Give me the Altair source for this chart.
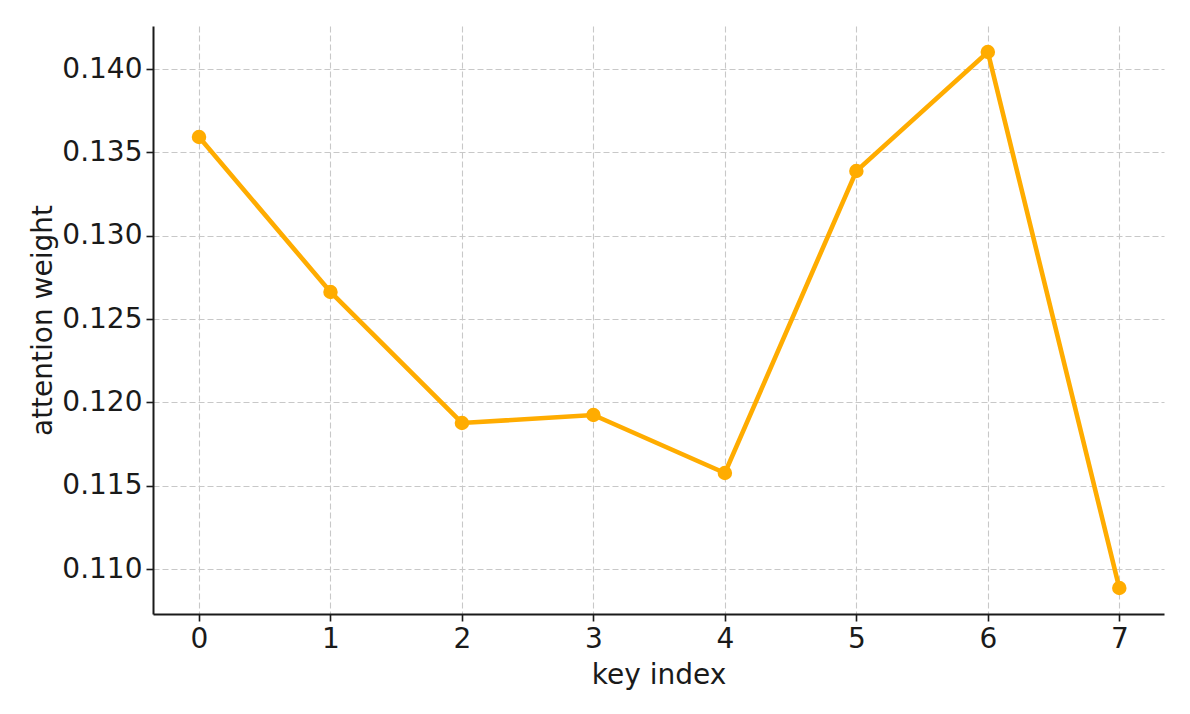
import altair as alt
import pandas as pd

keys = [0, 1, 2, 3, 4, 5, 6, 7]
weights = [0.13592, 0.12662, 0.11876, 0.11924, 0.11576, 0.13388, 0.14102, 0.10886]

df = pd.DataFrame({"key": keys, "weight": weights})

FONT = "DejaVu Sans"
COLOR = "#FFAC00"
INK = "#1a1a1a"

common = dict(labelFontSize=28, titleFontSize=28, labelFont=FONT, titleFont=FONT,
              labelColor=INK, titleColor=INK, titleFontWeight="normal",
              tickSize=7, tickWidth=1.6, tickColor=INK, labelPadding=4,
              domainColor=INK, domainWidth=2,
              gridColor="#c8c8c8", gridDash=[6, 3], gridWidth=1.1)

x = alt.X("key:Q", title="key index",
          scale=alt.Scale(domain=[-0.35, 7.34], nice=False, zero=False),
          axis=alt.Axis(values=keys, format="d", titlePadding=8, **common))
y = alt.Y("weight:Q", title="attention weight",
          scale=alt.Scale(domain=[0.10730, 0.14258], nice=False, zero=False),
          axis=alt.Axis(values=[0.110, 0.115, 0.120, 0.125, 0.130, 0.135, 0.140], format=".3f",
                        titlePadding=4, **common))

line = alt.Chart(df).mark_line(color=COLOR, strokeWidth=4.6).encode(x=x, y=y)
pts = alt.Chart(df).mark_point(color=COLOR, filled=True, size=210, opacity=1).encode(x="key:Q", y="weight:Q")

chart = (line + pts).properties(
    width=1011, height=588,
    background="white",
    autosize=alt.AutoSizeParams(type="none"),
    padding={"left": 145, "top": 18, "right": 18, "bottom": 92},
).configure_view(strokeWidth=0, stroke="transparent")

chart.save("out.html", embed_options={"renderer": "svg", "actions": False})
